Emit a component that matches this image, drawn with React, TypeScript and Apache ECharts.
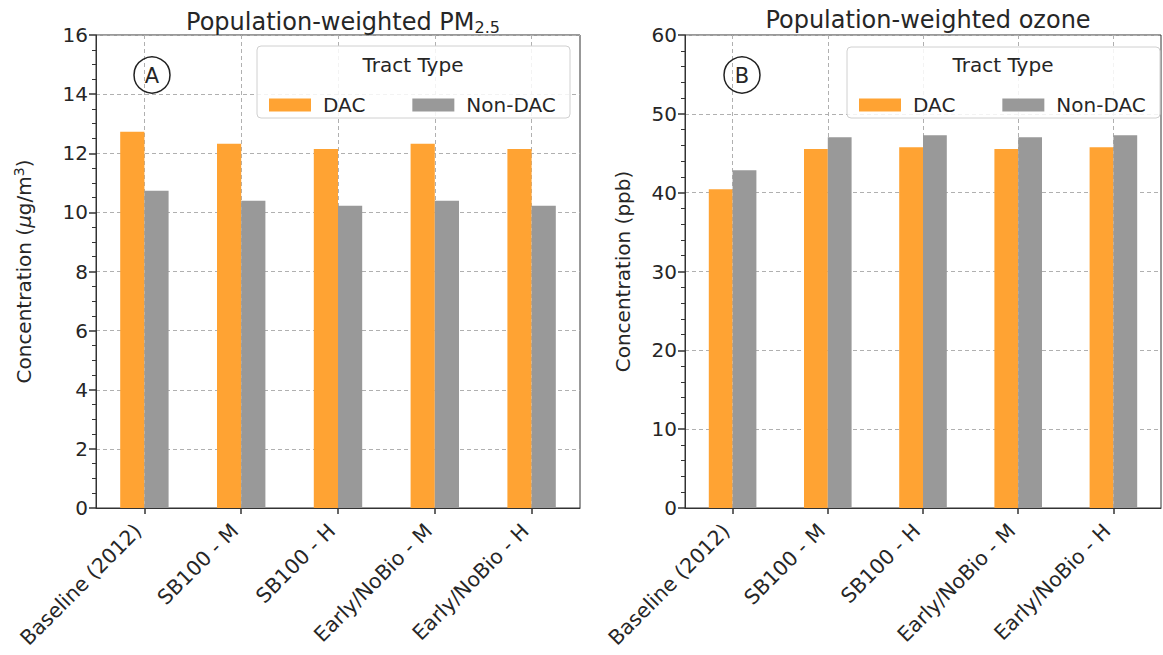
import React, { useEffect, useRef } from "react";
import * as echarts from "echarts";

const categories = ["Baseline (2012)", "SB100 - M", "SB100 - H", "Early/NoBio - M", "Early/NoBio - H"];
const pmDAC = [12.73, 12.32, 12.14, 12.32, 12.14];
const pmNonDAC = [10.73, 10.39, 10.22, 10.39, 10.22];
const ozoneDAC = [40.43, 45.54, 45.75, 45.54, 45.75];
const ozoneNonDAC = [42.84, 47.02, 47.27, 47.02, 47.27];
const seriesNames = ["DAC", "Non-DAC"];

const FONT = "DejaVu Sans";
const TXT = "#262626";
const ORANGE = "#ffa333";
const GRAY = "#999999";
const FS = 20;

export default function App() {
  const ref = useRef<HTMLDivElement>(null);
  useEffect(() => {
    if (!ref.current) return;
    const chart = echarts.init(ref.current, null, { renderer: "svg" });
    const grids = [
      { left: 96, top: 35, width: 484, height: 473 },
      { left: 685, top: 35, width: 476, height: 473 },
    ];
    const mkX = (gi: number) => ({
      type: "category",
      gridIndex: gi,
      data: categories,
      axisLine: { show: true, lineStyle: { color: "#333", width: 1 } },
      axisTick: { show: true, alignWithLabel: true, length: 6, lineStyle: { color: "#333", width: 1.5 } },
      axisLabel: {
        rotate: 45,
        fontFamily: FONT,
        fontSize: 20.5,
        color: TXT,
        margin: 13,
        padding: [0, 9, 0, 0],
        interval: 0,
      },
      splitLine: { show: true, alignWithLabel: true, lineStyle: { color: "#b0b0b0", type: [4, 3], width: 1 } },
    });
    const mkY = (gi: number, max: number, interval: number, minorSplit: number, name: any, rich: any, gap: number) => ({
      type: "value",
      gridIndex: gi,
      min: 0,
      max,
      interval,
      name,
      nameLocation: "middle",
      nameGap: gap,
      nameTextStyle: { fontFamily: FONT, fontSize: FS, color: TXT, rich },
      axisLine: { show: true, lineStyle: { color: "#333", width: 1 } },
      axisTick: { show: true, length: 7, lineStyle: { color: "#333", width: 1.5 } },
      minorTick: { show: true, splitNumber: minorSplit, length: 4, lineStyle: { color: "#333" } },
      axisLabel: { fontFamily: FONT, fontSize: FS, color: TXT, margin: 8 },
      splitLine: { show: true, lineStyle: { color: "#b0b0b0", type: [4, 3], width: 1 } },
    });
    const legendCommon = {
      orient: "horizontal",
      top: 90,
      itemWidth: 42,
      itemHeight: 13,
      itemGap: 47,
      icon: "rect",
      data: seriesNames,
      z: 5,
      textStyle: { fontFamily: FONT, fontSize: FS, color: TXT, padding: [0, 0, 0, 7] },
    };
    const boxes = [
      { x: 257, y: 46, w: 313, h: 72, letter: "A", cx: 152, tcx: 413 },
      { x: 847, y: 47, w: 313, h: 71, letter: "B", cx: 742, tcx: 1003 },
    ];
    const graphics: any[] = [];
    boxes.forEach((b) => {
      graphics.push({
        type: "rect",
        z: 3,
        shape: { x: b.x, y: b.y, width: b.w, height: b.h, r: 4 },
        style: { fill: "rgba(255,255,255,0.85)", stroke: "#d0d0d0", lineWidth: 1 },
      });
      graphics.push({
        type: "text",
        z: 4,
        x: b.tcx,
        y: 65,
        style: { text: "Tract Type", fontFamily: FONT, fontSize: FS, fill: TXT, align: "center", verticalAlign: "middle" },
      });
      graphics.push({
        type: "circle",
        z: 4,
        shape: { cx: b.cx, cy: 75, r: 18 },
        style: { fill: "none", stroke: "#222", lineWidth: 1.5 },
      });
      graphics.push({
        type: "text",
        z: 4,
        x: b.cx,
        y: 76,
        style: { text: b.letter, fontFamily: FONT, fontSize: 21, fill: TXT, align: "center", verticalAlign: "middle" },
      });
    });
    const mkBar = (name: string, data: number[], color: string, gi: number) => ({
      type: "bar",
      name,
      xAxisIndex: gi,
      yAxisIndex: gi,
      data,
      barGap: "0%",
      barCategoryGap: "50%",
      itemStyle: { color },
      z: 2,
    });
    chart.setOption({
      animation: false,
      backgroundColor: "#ffffff",
      title: [
        {
          text: "Population-weighted PM{sub|2.5}",
          left: 338,
          top: 3,
          textAlign: "center",
          textStyle: {
            fontFamily: FONT,
            fontSize: 24,
            fontWeight: "normal",
            color: TXT,
            rich: { sub: { fontFamily: FONT, fontSize: 16, color: TXT, padding: [11, 0, 0, 0] } },
          },
        },
        {
          text: "Population-weighted ozone",
          left: 923,
          top: 3,
          textAlign: "center",
          textStyle: { fontFamily: FONT, fontSize: 24, fontWeight: "normal", color: TXT },
        },
      ],
      grid: grids.map((g) => ({
        ...g,
        show: true,
        borderColor: "#333",
        borderWidth: 1,
        backgroundColor: "transparent",
        containLabel: false,
        outerBoundsMode: "none",
      })),
      xAxis: [mkX(0), mkX(1)],
      yAxis: [
        mkY(0, 16, 2, 4, "Concentration ({i|μ}g/m{sup|3})", {
          i: { fontFamily: FONT, fontSize: FS, fontStyle: "italic", color: TXT },
          sup: { fontFamily: FONT, fontSize: 14, color: TXT, padding: [0, 0, 10, 0] },
        }, 60),
        mkY(1, 60, 10, 5, "Concentration (ppb)", {}, 52),
      ],
      legend: [
        { ...legendCommon, left: 264 },
        { ...legendCommon, left: 854 },
      ],
      graphic: graphics,
      series: [
        mkBar(seriesNames[0], pmDAC, ORANGE, 0),
        mkBar(seriesNames[1], pmNonDAC, GRAY, 0),
        mkBar(seriesNames[0], ozoneDAC, ORANGE, 1),
        mkBar(seriesNames[1], ozoneNonDAC, GRAY, 1),
      ],
    });
    return () => chart.dispose();
  }, []);
  return <div ref={ref} style={{ position: "fixed", left: 0, top: 0, width: 1163, height: 655 }} />;
}
